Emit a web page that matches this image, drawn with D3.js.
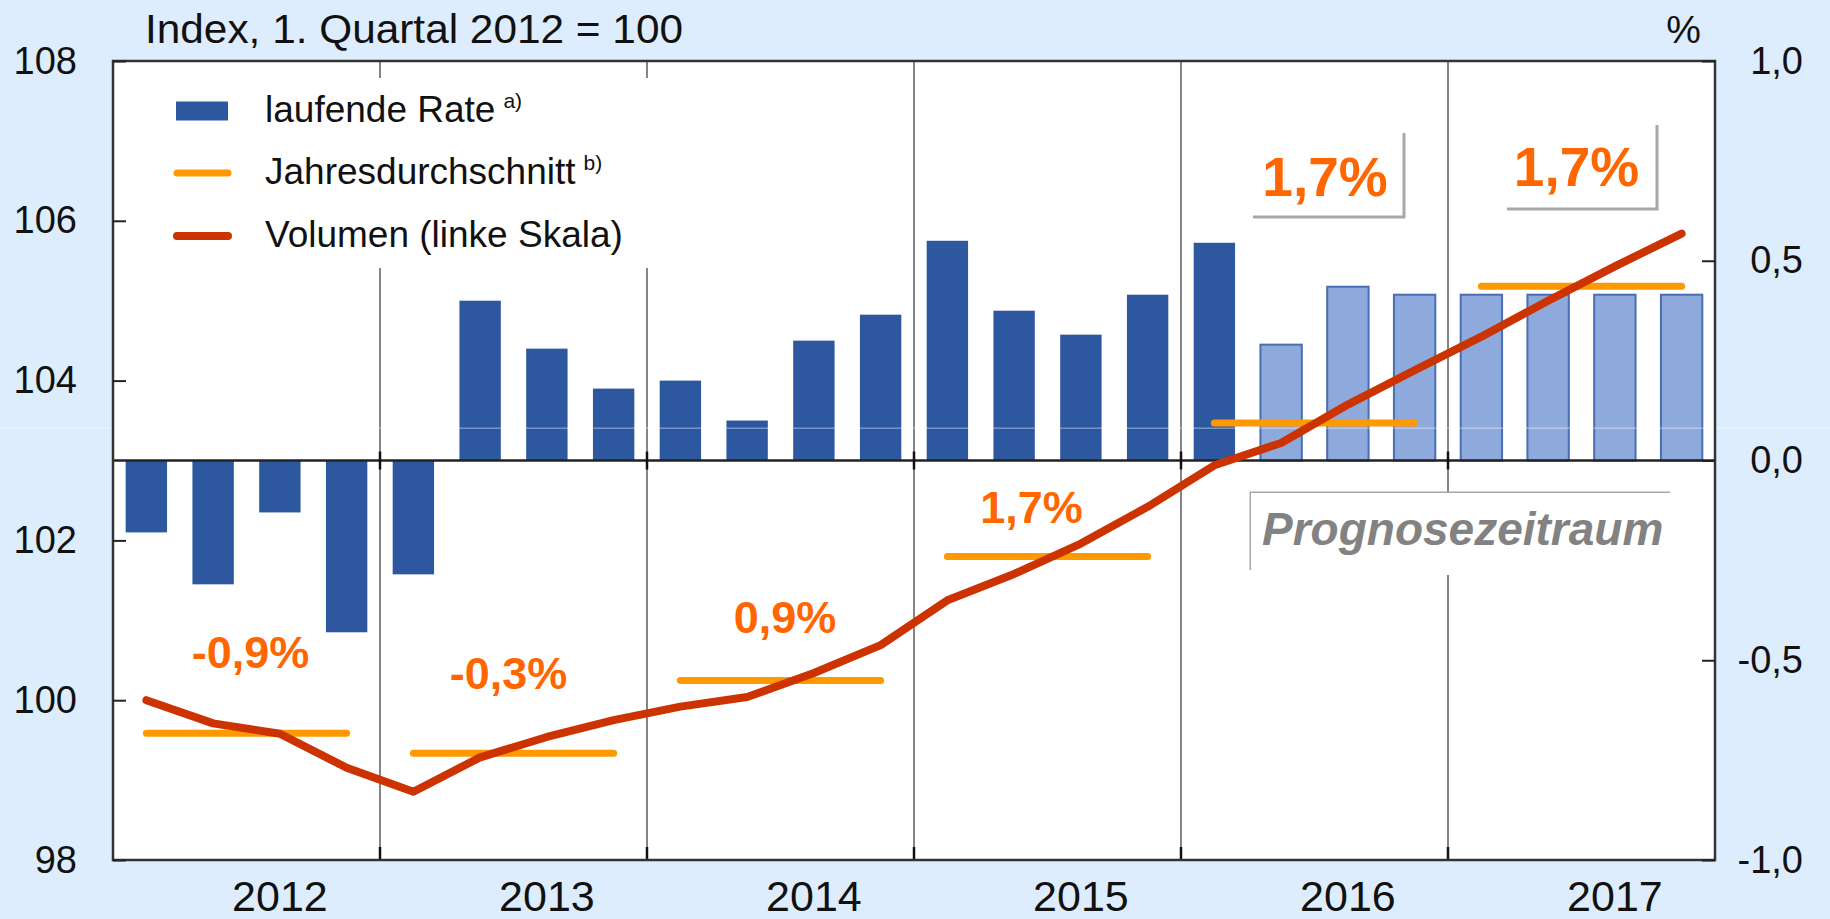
<!DOCTYPE html>
<html>
<head>
<meta charset="utf-8">
<script src="https://cdn.jsdelivr.net/npm/d3@7"></script>
<style>
  html, body { margin: 0; padding: 0; background: #DDEDFD; }
  svg { display: block; font-family: "Liberation Sans", Arial, sans-serif; }
</style>
</head>
<body>
<svg id="chart" width="1830" height="919"></svg>
<script>
// ---------- data ----------
const quarters = ["2012Q1","2012Q2","2012Q3","2012Q4","2013Q1","2013Q2","2013Q3","2013Q4",
                  "2014Q1","2014Q2","2014Q3","2014Q4","2015Q1","2015Q2","2015Q3","2015Q4",
                  "2016Q1","2016Q2","2016Q3","2016Q4","2017Q1","2017Q2","2017Q3","2017Q4"];
const years = ["2012","2013","2014","2015","2016","2017"];
// laufende Rate (%, right axis)
const rate = [-0.18,-0.31,-0.13,-0.43, -0.285,0.40,0.28,0.18, 0.20,0.10,0.30,0.365,
              0.55,0.375,0.315,0.415, 0.545,0.29,0.435,0.415, 0.415,0.415,0.415,0.415];
// forecast flag (light bars)
const forecast = [0,0,0,0, 0,0,0,0, 0,0,0,0, 0,0,0,0, 0,1,1,1, 1,1,1,1];
// Volumen (index, left axis)
const volume = [100.0,99.71,99.58,99.155, 98.855,99.285,99.54,99.75, 99.92,100.04,100.34,100.69,
                101.25,101.58,101.96,102.42, 102.94,103.22,103.7,104.13, 104.55,105.0,105.43,105.84];
// Jahresdurchschnitt (left axis)
const annualAvg = [99.585, 99.335, 100.245, 101.8, 103.47, 105.18];
const annualLabels = ["-0,9%","-0,3%","0,9%","1,7%","1,7%","1,7%"];
const leftTicks = [98,100,102,104,106,108];
const rightTicks = [-1,-0.5,0,0.5,1];
const legendLabels = ["laufende Rate","Jahresdurchschnitt","Volumen (linke Skala)"];
const legendNotes = ["a)","b)",""];

// ---------- layout ----------
const L = 113, R = 1715, T = 61, B = 860;
const svg = d3.select("#chart");
const C = { dark:"#2D579E", light:"#8EA9DB", lightStroke:"#4A6DB3", red:"#CC3300",
            orange:"#FF9900", label:"#FF6600", grid:"#858585", frame:"#333" };

const x = d3.scaleBand().domain(quarters).range([L, R]).paddingInner(0.38).paddingOuter(0.19);
const xq = d3.scaleBand().domain(quarters).range([L, R]);   // full-width quarter bands
const yL = d3.scaleLinear().domain([98,108]).range([B, T]);
const yR = d3.scaleLinear().domain([-1,1]).range([B, T]);
const yearStart = y => xq(y + "Q1");
const yearEnd = y => xq(y + "Q4") + xq.bandwidth();
const qc = q => xq(q) + xq.bandwidth()/2;

// background
svg.append("rect").attr("width",1830).attr("height",919).attr("fill","#DDEDFD");
svg.append("rect").attr("x",L).attr("y",T).attr("width",R-L).attr("height",B-T).attr("fill","#fff");

// year separators
svg.append("g").selectAll("line").data(years.slice(1)).join("line")
  .attr("x1", d => yearStart(d)).attr("x2", d => yearStart(d))
  .attr("y1", T).attr("y2", B).attr("stroke", C.grid).attr("stroke-width", 2);

// bars
svg.append("g").selectAll("rect").data(quarters).join("rect")
  .attr("x", d => x(d))
  .attr("width", x.bandwidth())
  .attr("y", (d,i) => yR(Math.max(0, rate[i])))
  .attr("height", (d,i) => Math.abs(yR(rate[i]) - yR(0)))
  .attr("fill", (d,i) => forecast[i] ? C.light : C.dark)
  .attr("stroke", (d,i) => forecast[i] ? C.lightStroke : "none")
  .attr("stroke-width", 2);

// zero line and ticks on it
svg.append("line").attr("x1",L).attr("x2",R).attr("y1",yR(0)).attr("y2",yR(0))
  .attr("stroke","#222").attr("stroke-width",2.5);
svg.append("g").selectAll("line").data(years.slice(1)).join("line")
  .attr("x1", d => yearStart(d)).attr("x2", d => yearStart(d))
  .attr("y1", yR(0)-9).attr("y2", yR(0)+9).attr("stroke","#111").attr("stroke-width",2.5);
// bottom ticks
svg.append("g").selectAll("line").data(years.slice(1)).join("line")
  .attr("x1", d => yearStart(d)).attr("x2", d => yearStart(d))
  .attr("y1", B-13).attr("y2", B).attr("stroke","#111").attr("stroke-width",2.5);

// faint scan artifact line
svg.append("line").attr("x1",0).attr("x2",1830).attr("y1",yR(0.081)).attr("y2",yR(0.081))
  .attr("stroke","#fff").attr("stroke-opacity",0.55).attr("stroke-width",1);

// annual averages
svg.append("g").selectAll("line").data(years).join("line")
  .attr("x1", d => qc(d+"Q1")).attr("x2", d => qc(d+"Q4"))
  .attr("y1", (d,i) => yL(annualAvg[i])).attr("y2", (d,i) => yL(annualAvg[i]))
  .attr("stroke", C.orange).attr("stroke-width", 7).attr("stroke-linecap","round");

// volume line
const line = d3.line().x((d,i) => qc(quarters[i])).y(d => yL(d));
svg.append("path").datum(volume).attr("d", line).attr("fill","none")
  .attr("stroke", C.red).attr("stroke-width", 8).attr("stroke-linecap","round").attr("stroke-linejoin","round");

// legend
svg.append("rect").attr("x",L+2).attr("y",78).attr("width",540).attr("height",190).attr("fill","#fff");
const legY = [111, 173, 236];
svg.append("rect").attr("x",176).attr("y",legY[0]-9.5).attr("width",52).attr("height",19).attr("fill",C.dark);
svg.append("line").attr("x1",177).attr("x2",228).attr("y1",legY[1]).attr("y2",legY[1])
  .attr("stroke",C.orange).attr("stroke-width",7).attr("stroke-linecap","round");
svg.append("line").attr("x1",177).attr("x2",228).attr("y1",legY[2]).attr("y2",legY[2])
  .attr("stroke",C.red).attr("stroke-width",8).attr("stroke-linecap","round");
legendLabels.forEach((t,i) => {
  const tx = svg.append("text").attr("x",265).attr("y",legY[i]+11).attr("font-size",37).attr("fill","#111");
  tx.append("tspan").text(t);
  if (legendNotes[i]) tx.append("tspan").attr("dx",8).attr("dy",-14).attr("font-size",21).text(legendNotes[i]);
});

// annotation boxes
const box = svg.append("g").attr("fill","none").attr("stroke","#A8A8A8").attr("stroke-width",3);
box.append("polyline").attr("points", "1253,217 1404,217 1404,133");
box.append("polyline").attr("points", "1507,209 1657,209 1657,125");
svg.append("rect").attr("x",1251).attr("y",493).attr("width",424).attr("height",82).attr("fill","#fff");
box.append("polyline").attr("points", "1251,570 1251,493 1670,493");
svg.append("text").attr("x",1262).attr("y",545).attr("font-size",46).attr("font-weight","bold")
  .attr("font-style","italic").attr("fill","#828282").text("Prognosezeitraum");

// annual labels
const labelPos = [ // [x offset from year centre, left-axis value of baseline, size]
  [4, 100.40, 45], [-5, 100.14, 45], [4.5, 100.84, 45], [-16, 102.22, 45], [10.5, 106.31, 55], [-5, 106.44, 55]];
svg.append("g").selectAll("text").data(years).join("text")
  .attr("x", (d,i) => (yearStart(d)+yearEnd(d))/2 + labelPos[i][0])
  .attr("y", (d,i) => yL(labelPos[i][1]))
  .attr("text-anchor","middle").attr("font-weight","bold")
  .attr("font-size", (d,i) => labelPos[i][2]).attr("fill", C.label)
  .text((d,i) => annualLabels[i]);

// frame
svg.append("rect").attr("x",L).attr("y",T).attr("width",R-L).attr("height",B-T)
  .attr("fill","none").attr("stroke",C.frame).attr("stroke-width",2.5);

// axes
const fmt = v => d3.format(".1f")(v).replace(".", ",").replace("\u2212", "-");
const axL = svg.append("g").attr("transform",`translate(${L},0)`)
  .call(d3.axisLeft(yL).tickValues(leftTicks).tickSizeInner(-13).tickSizeOuter(0).tickPadding(36).tickFormat(d3.format("d")));
axL.select(".domain").remove();
axL.selectAll(".tick line").attr("stroke","#222").attr("stroke-width",2);
axL.selectAll("text").attr("font-size",38).attr("fill","#111").attr("font-family",null);

const axR = svg.append("g").attr("transform",`translate(${R},0)`)
  .call(d3.axisRight(yR).tickValues(rightTicks).tickSizeInner(-13).tickSizeOuter(0).tickPadding(88).tickFormat(fmt));
axR.select(".domain").remove();
axR.selectAll(".tick line").attr("stroke","#222").attr("stroke-width",2);
axR.selectAll("text").attr("font-size",38).attr("fill","#111").attr("text-anchor","end").attr("font-family",null);

const axB = svg.append("g").attr("transform",`translate(0,${B})`)
  .call(d3.axisBottom(xq).tickValues(years.map(y => y+"Q3")).tickSize(0).tickPadding(0).tickFormat(d => d.slice(0,4)));
axB.select(".domain").remove();
axB.selectAll("text").attr("font-size",43).attr("fill","#111").attr("dy",null).attr("y",51).attr("font-family",null);

// titles
svg.append("text").attr("x",145).attr("y",43).attr("font-size",40).attr("fill","#111")
  .attr("textLength",538).attr("lengthAdjust","spacingAndGlyphs").text("Index, 1. Quartal 2012 = 100");
svg.append("text").attr("x",1701).attr("y",43).attr("font-size",39).attr("fill","#111")
  .attr("text-anchor","end").text("%");
</script>
</body>
</html>
